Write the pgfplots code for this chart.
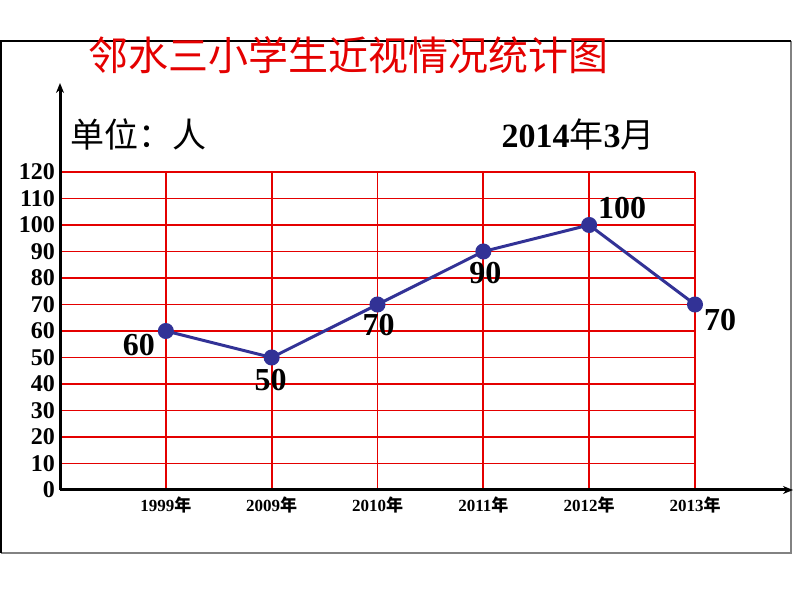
\documentclass[border=0pt]{standalone}
\usepackage{fontspec}
\usepackage{pgfplots}
\pgfplotsset{compat=1.18}
\usetikzlibrary{arrows.meta}
\setmainfont{Liberation Serif}
\newfontfamily\cjk{Noto Sans CJK SC}
\definecolor{gridred}{RGB}{228,0,0}
\definecolor{lineblue}{RGB}{50,50,150}
\definecolor{framegray}{RGB}{130,130,130}
\begin{document}
\begin{tikzpicture}
\useasboundingbox (0pt,0pt) rectangle (794pt,596pt);
% frame
\draw[framegray, line width=1.2pt] (791pt,555pt) -- (791pt,43pt) -- (1pt,43pt);
\draw[black, line width=1.2pt] (1pt,43pt) -- (1pt,555pt) -- (791pt,555pt);
\begin{axis}[
    at={(60pt,106pt)}, anchor=south west,
    scale only axis, width=635pt, height=318pt,
    xmin=0, xmax=6, ymin=0, ymax=120,
    enlargelimits=false, clip=false,
    axis lines=left,
    axis line style={line width=3pt},
    x axis line style={-{Stealth[length=10pt,width=8pt]}, shorten >=-98pt},
    y axis line style={-{Stealth[length=10pt,width=8pt]}, shorten >=-89pt},
    xtick={1,...,6}, ytick={0,10,...,120},
    xticklabels={1999{\cjk 年},2009{\cjk 年},2010{\cjk 年},2011{\cjk 年},2012{\cjk 年},2013{\cjk 年}},
    major tick length=0pt,
    grid=major,
    major grid style={gridred, line width=1.9pt},
    /pgf/number format/assume math mode=true,
    yticklabel style={font=\fontsize{24}{24}\selectfont\bfseries, inner sep=0pt, xshift=-5pt},
    xticklabel style={font=\fontsize{17}{17}\selectfont\bfseries, inner sep=0pt, yshift=-7pt},
]
\addplot[lineblue, line width=3pt, mark=*, mark size=6.5pt,
    mark options={fill=lineblue, draw=lineblue}]
    coordinates {(1,60) (2,50) (3,70) (4,90) (5,100) (6,70)};
\begin{scope}[every node/.style={font=\fontsize{32}{32}\selectfont\bfseries, inner sep=0pt}]
\node[xshift=-27pt, yshift=-14pt] at (axis cs:1,60) {60};
\node[xshift=-1pt, yshift=-23pt] at (axis cs:2,50) {50};
\node[xshift=1pt, yshift=-21pt] at (axis cs:3,70) {70};
\node[xshift=2pt, yshift=-22pt] at (axis cs:4,90) {90};
\node[xshift=33pt, yshift=17pt] at (axis cs:5,100) {100};
\node[xshift=25pt, yshift=-16pt] at (axis cs:6,70) {70};
\end{scope}
\end{axis}
% title and notes
\node[gridred, font=\cjk\fontsize{40}{44}\selectfont, inner sep=0pt] at (348pt,541pt) {邻水三小学生近视情况统计图};
\node[anchor=west, font=\cjk\fontsize{34}{38}\selectfont, inner sep=0pt] at (70pt,462pt) {单位：人};
\node[font=\fontsize{34}{38}\selectfont\bfseries, inner sep=0pt] at (578pt,461pt) {2014{\cjk\mdseries 年}3{\cjk\mdseries 月}};
\end{tikzpicture}
\end{document}
